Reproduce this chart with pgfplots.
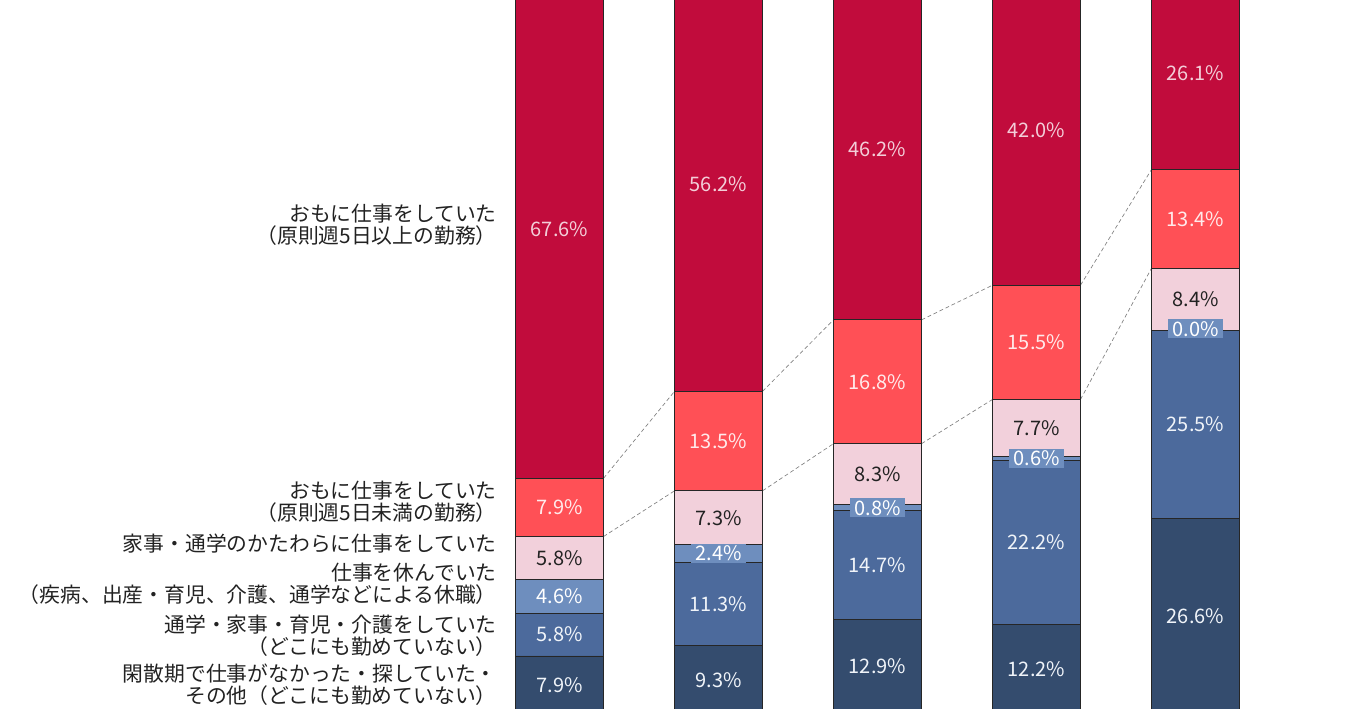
\documentclass[border=0pt]{standalone}
\usepackage{pgfplots}
\pgfplotsset{compat=1.18}
\usepackage{pgfplotstable}
\usepackage{fontspec}
\setmainfont{Noto Sans CJK JP}
\definecolor{cNavy}{RGB}{52,76,110}
\definecolor{cBlue}{RGB}{76,106,156}
\definecolor{cLight}{RGB}{110,142,190}
\definecolor{cPink}{RGB}{242,208,219}
\definecolor{cRed}{RGB}{255,80,86}
\definecolor{cCrim}{RGB}{193,12,60}
\definecolor{cTxt}{RGB}{34,34,34}

\pgfplotstableread{
x v
0 7.9
1 9.3
2 12.9
3 12.2
4 26.6
}\tNavy
\pgfplotstableread{
x v
0 5.8
1 11.3
2 14.7
3 22.2
4 25.5
}\tBlue
\pgfplotstableread{
x v
0 4.6
1 2.4
2 0.8
3 0.6
4 0.0
}\tLight
\pgfplotstableread{
x v
0 5.8
1 7.3
2 8.3
3 7.7
4 8.4
}\tPink
\pgfplotstableread{
x v
0 7.9
1 13.5
2 16.8
3 15.5
4 13.4
}\tRed
\pgfplotstableread{
x v
0 67.6
1 56.2
2 46.2
3 42.0
4 26.1
}\tCrim

\pgfplotsset{
  common/.style={
    at={(0,0)}, anchor=south west, scale only axis,
    width=1012.5pt, height=531.75pt,
    xmin=-3.519, xmax=4.972, ymin=0.7, ymax=96.9,
    hide axis,
  },
  numlab/.style={
    point meta=explicit,
    nodes near coords={\pgfmathprintnumber[fixed,fixed zerofill,precision=1,assume math mode=true]{\pgfplotspointmeta}\%},
    every node near coord/.append style={anchor=center, inner sep=1.5pt,
       font=\fontsize{15}{18}\selectfont},
  }
}

\begin{document}
\begin{tikzpicture}
\useasboundingbox (0,0) rectangle (1012.5pt,531.75pt);
% connectors and category labels
\begin{axis}[common, clip=false]
\addplot[gray, densely dashed, line width=0.5pt] coordinates {(0.2767,32.0) (0.7233,43.8)};
\addplot[gray, densely dashed, line width=0.5pt] coordinates {(0.2767,24.1) (0.7233,30.3)};
\addplot[gray, densely dashed, line width=0.5pt] coordinates {(1.2767,43.8) (1.7233,53.5)};
\addplot[gray, densely dashed, line width=0.5pt] coordinates {(1.2767,30.3) (1.7233,36.7)};
\addplot[gray, densely dashed, line width=0.5pt] coordinates {(2.2767,53.5) (2.7233,58.2)};
\addplot[gray, densely dashed, line width=0.5pt] coordinates {(2.2767,36.7) (2.7233,42.7)};
\addplot[gray, densely dashed, line width=0.5pt] coordinates {(3.2767,58.2) (3.7233,73.9)};
\addplot[gray, densely dashed, line width=0.5pt] coordinates {(3.2767,42.7) (3.7233,60.5)};
\begin{scope}[every node/.style={anchor=east, align=right, inner sep=0pt, text=cTxt, font=\fontsize{15.6}{16.6}\selectfont}]
\node at (axis cs:-0.393,66.4) {おもに仕事をしていた\\（原則週5日以上の勤務）};
\node at (axis cs:-0.393,28.8) {おもに仕事をしていた\\（原則週5日未満の勤務）};
\node at (axis cs:-0.393,23.2) {家事・通学のかたわらに仕事をしていた};
\node at (axis cs:-0.393,17.7) {仕事を休んでいた\\（疾病、出産・育児、介護、通学などによる休職）};
\node at (axis cs:-0.393,10.6) {通学・家事・育児・介護をしていた\\（どこにも勤めていない）};
\node at (axis cs:-0.393,4.0) {閑散期で仕事がなかった・探していた・\\その他（どこにも勤めていない）};
\end{scope}
\end{axis}
% stacked bars
\begin{axis}[common, clip=false,
  ybar stacked, bar width=0.5535,
  every axis plot/.append style={draw=black!85, line width=0.6pt},
  numlab,
]
\addplot[fill=cNavy, every node near coord/.append style={text=white!90!cLight}] table[x=x,y=v,meta=v] {\tNavy};
\addplot[fill=cBlue, every node near coord/.append style={text=white!90!cLight}] table[x=x,y=v,meta=v] {\tBlue};
\addplot[fill=cLight, every node near coord/.append style={text=white, fill=cLight, inner xsep=3pt}] table[x=x,y=v,meta=v] {\tLight};
\addplot[fill=cPink, every node near coord/.append style={text=cTxt}] table[x=x,y=v,meta=v] {\tPink};
\addplot[fill=cRed, every node near coord/.append style={text=white!88!cRed}] table[x=x,y=v,meta=v] {\tRed};
\addplot[fill=cCrim, every node near coord/.append style={text=white!80!cCrim}] table[x=x,y=v,meta=v] {\tCrim};
\end{axis}
% label of the zero-height segment (4th bar group, 5th category)
\begin{axis}[common, clip=false, numlab]
\addplot[only marks, mark=*, mark size=0pt, mark options={draw=none, fill=none},
  every node near coord/.append style={text=white, fill=cLight, inner xsep=3pt}]
  coordinates {(4,52.3) [0.0]};
\end{axis}
\end{tikzpicture}
\end{document}
